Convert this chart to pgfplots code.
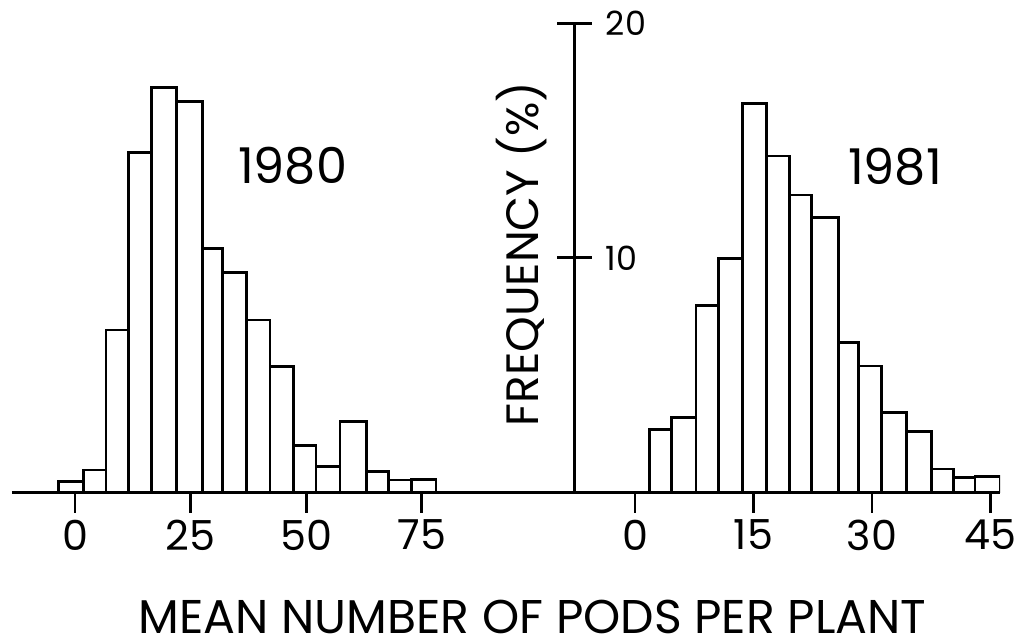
\documentclass[border=0pt]{standalone}
\usepackage{pgfplots}
\pgfplotsset{compat=1.18}
\usepackage{fontspec}
\setmainfont{Poppins}

\pgfplotstableread{
x y
-3.61 0.46
1.80 0.96
6.71 6.93
11.54 14.48
16.59 17.27
21.99 16.66
27.54 10.41
31.94 9.39
37.14 7.35
42.18 5.36
47.23 2.02
52.13 1.10
57.33 3.02
63.09 0.89
67.78 0.53
72.83 0.56
78.09 0.56
}\yeareighty

\pgfplotstableread{
x y
1.81 2.69
4.64 3.21
7.72 7.96
10.55 9.98
13.63 16.59
16.67 14.34
19.53 12.68
22.36 11.73
25.74 6.40
28.27 5.39
31.22 3.40
34.39 2.59
37.55 1.00
40.29 0.65
43.04 0.67
46.20 0.67
}\yeareightyone

\begin{document}
\begin{tikzpicture}
\path[use as bounding box] (0,0) rectangle (762pt,482.25pt);
\pgfplotsset{
  hist/.style={
    scale only axis, anchor=south west,
    height=351.9pt, ymin=0, ymax=20,
    axis x line*=bottom, axis y line=none,
    axis line style={line width=2.1pt, black},
    tick style={line width=2.1pt, black},
    tick align=outside, major tick length=15pt,
    xticklabel style={font=\fontsize{31}{31}\selectfont, yshift=-2pt},
    /pgf/number format/assume math mode=true,
  }
}
% left: 1980
\begin{axis}[hist, at={(9pt,112.875pt)}, width=421.875pt,
  xmin=-13.63, xmax=108.05, xtick={0,25,50,75}]
\addplot[ybar interval, fill=white, draw=black, line width=2.1pt] table {\yeareighty};
\end{axis}
% right: 1981
\begin{axis}[hist, at={(430.875pt,112.875pt)}, width=319.125pt,
  xmin=-7.66, xmax=46.2, xtick={0,15,30,45}]
\addplot[ybar interval, fill=white, draw=black, line width=2.1pt] table {\yeareightyone};
\end{axis}
% central frequency axis
\begin{axis}[scale only axis, anchor=south west, at={(9pt,112.875pt)},
  width=421.875pt, height=351.9pt, xmin=0, xmax=1, ymin=0, ymax=20,
  axis x line=none, axis y line*=right,
  axis line style={line width=2.1pt, black},
  tick style={line width=2.1pt, black},
  tick align=center, major tick length=26pt,
  ytick={10,20},
  yticklabel style={font=\fontsize{25}{25}\selectfont, xshift=7pt},
  /pgf/number format/assume math mode=true]
\end{axis}
\node[font=\fontsize{37}{37}\selectfont] at (219.4pt,358.1pt) {1980};
\node[font=\fontsize{37}{37}\selectfont] at (671.25pt,357.4pt) {1981};
\node[font=\fontsize{34}{34}\selectfont, rotate=90] at (391.5pt,291.75pt) {FREQUENCY (\%)};
\node[font=\fontsize{35.5}{35.5}\selectfont, anchor=base] at (399.4pt,7.5pt) {MEAN NUMBER OF PODS PER PLANT};
\end{tikzpicture}
\end{document}
